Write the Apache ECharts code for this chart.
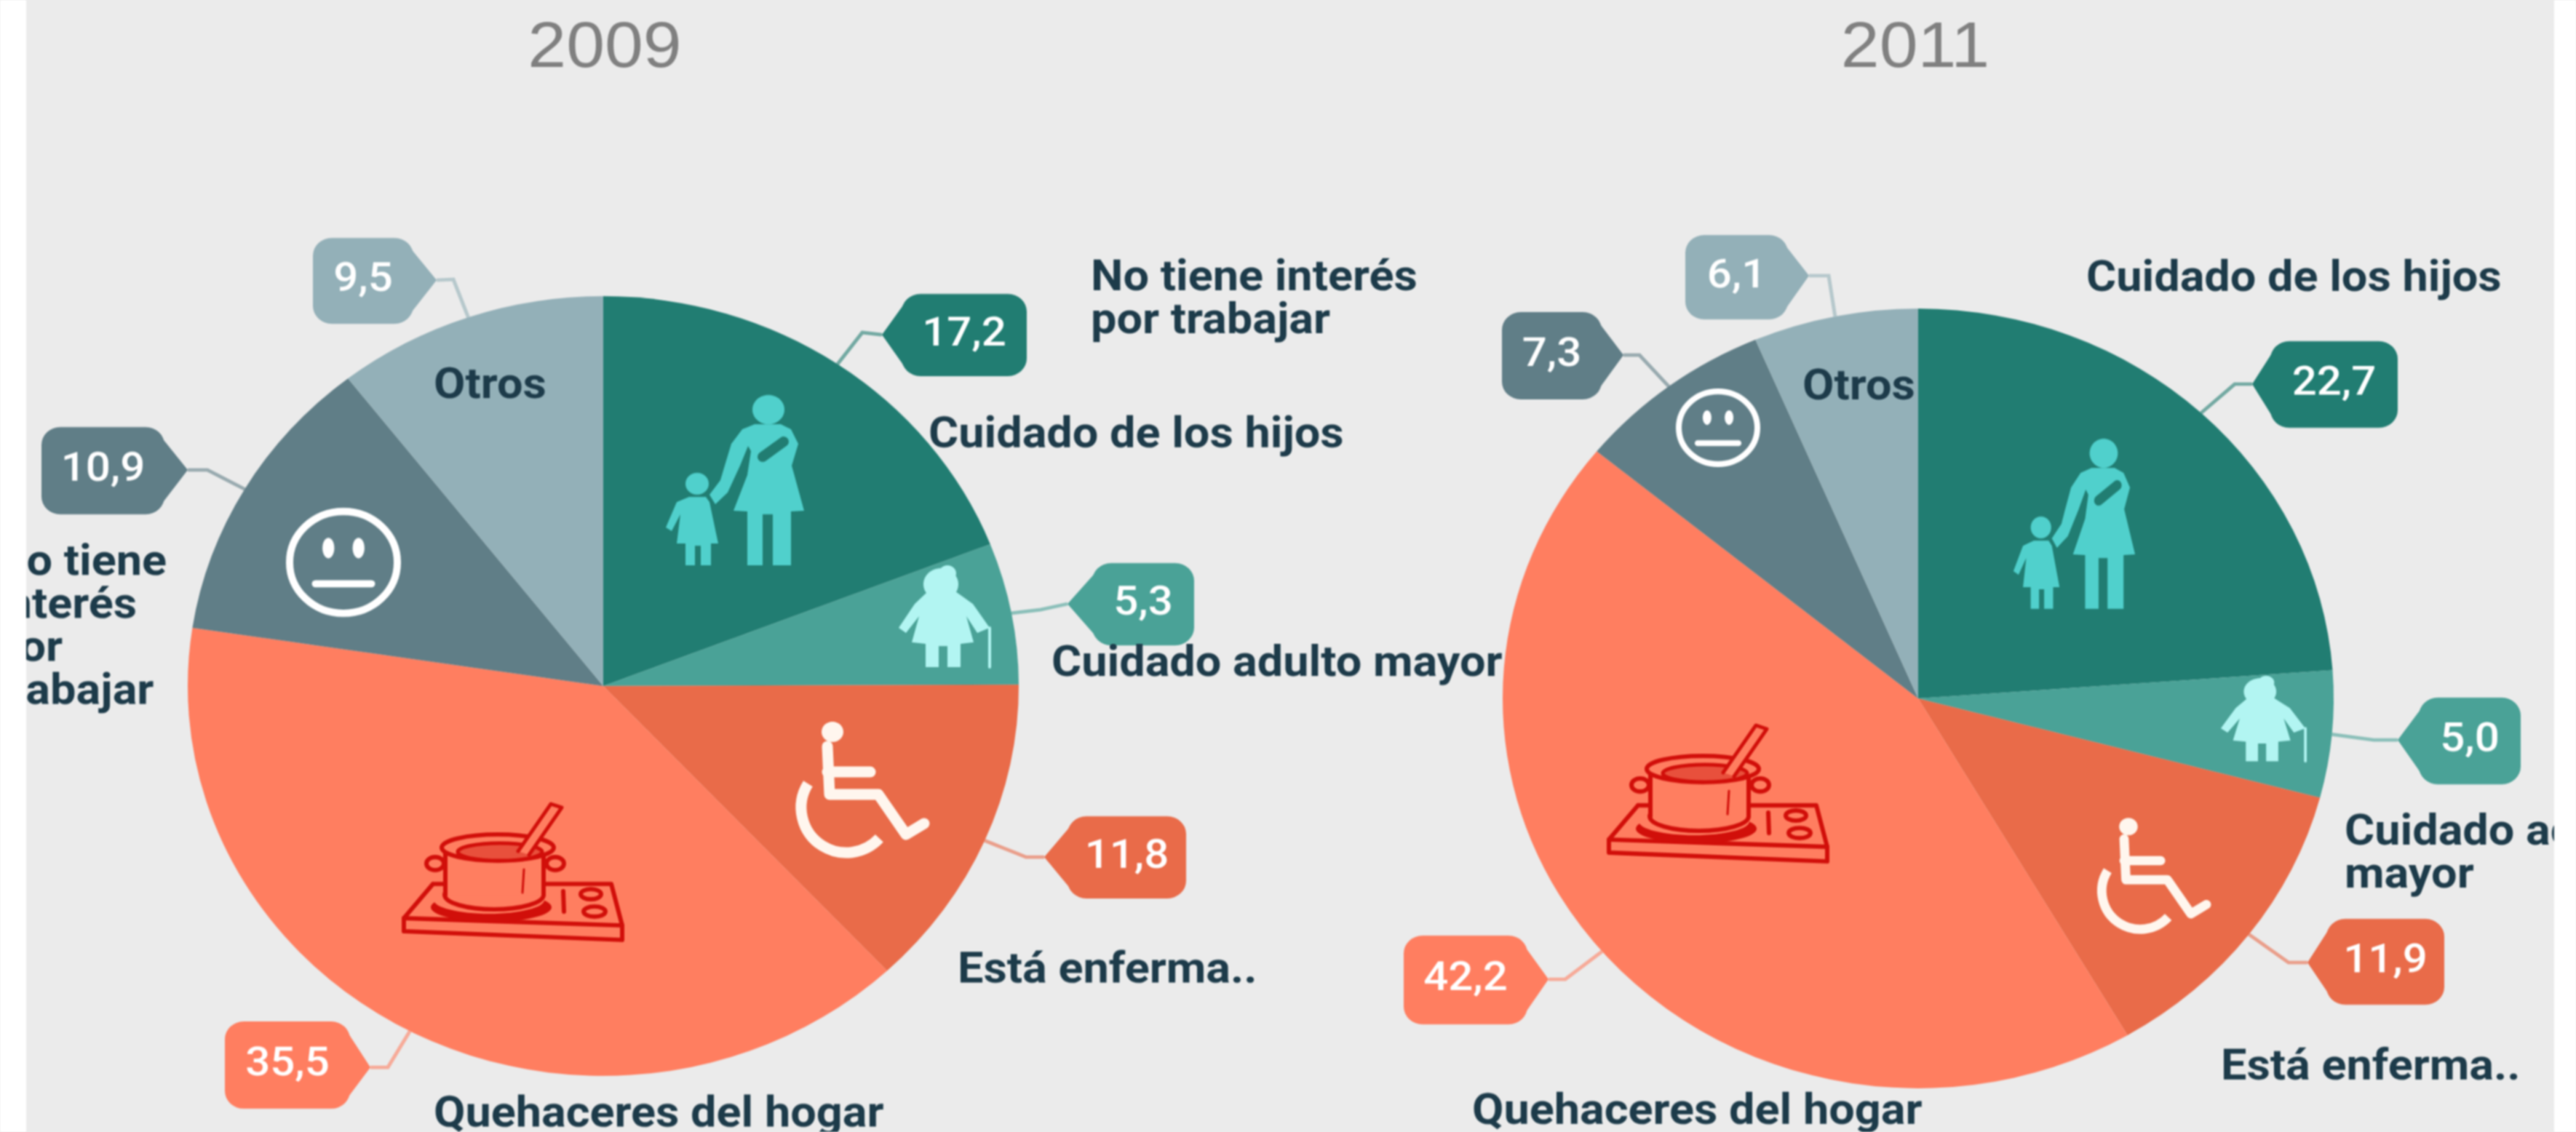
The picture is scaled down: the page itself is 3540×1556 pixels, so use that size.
<!DOCTYPE html>
<html>
<head>
<meta charset="utf-8">
<script src="https://cdn.jsdelivr.net/npm/echarts@6/dist/echarts.min.js"></script>
<style>
html, body { margin: 0; padding: 0; background: #ebebeb; overflow: hidden; }
/* the source picture is a stretched, soft upscale: squash the chart and blur it a little */
#chart { width: 3540px; height: 1658px; transform: scaleY(0.9385); transform-origin: 0 0; filter: blur(1.2px); }
</style>
</head>
<body>
<div id="chart"></div>
<script>
const years = ['2009', '2011']
const categories = ['Cuidado de los hijos', 'Cuidado adulto mayor', 'Está enferma..', 'Quehaceres del hogar', 'No tiene interés por trabajar', 'Otros']
const values2009 = [17.2, 5.3, 11.8, 35.5, 10.9, 9.5]
const values2011 = [22.7, 5.0, 11.9, 42.2, 7.3, 6.1]
const sliceColors = ['#217d72', '#4aa297', '#e96b49', '#ff7e60', '#607e87', '#93b0b8']

const SQUASH = 0.9385
const Y = (y) => y / SQUASH
const INK = '#1d3b4a'

// tag box [x, y, w, h], pointer tip, line elbow, all in picture px
const tags2009 = [
  { box: [1239, 404, 172, 113], tip: [1212, 460], elbow: [1185, 457] },
  { box: [1501, 774, 140, 113], tip: [1467, 830], elbow: [1430, 838] },
  { box: [1467, 1122, 163, 113], tip: [1435, 1178], elbow: [1410, 1178] },
  { box: [309, 1404, 172, 120], tip: [509, 1467], elbow: [533, 1467] },
  { box: [57, 587, 169, 120], tip: [258, 646], elbow: [285, 646] },
  { box: [430, 327, 138, 118], tip: [600, 385], elbow: [623, 384] },
]
const tags2011 = [
  { box: [3120, 469, 175, 119], tip: [3095, 528], elbow: [3071, 528] },
  { box: [3324, 959, 140, 119], tip: [3295, 1017], elbow: [3262, 1017] },
  { box: [3197, 1263, 162, 118], tip: [3171, 1323], elbow: [3145, 1323] },
  { box: [1929, 1286, 170, 122], tip: [2128, 1346], elbow: [2151, 1346] },
  { box: [2064, 429, 137, 120], tip: [2231, 488], elbow: [2253, 488] },
  { box: [2316, 323, 141, 116], tip: [2486, 379], elbow: [2513, 379] },
]

// category names placed around the pies: text, left x, middle y
const names = [
  ['No tiene interés\npor trabajar', 1499, 414],
  [categories[0], 1276, 600],
  [categories[5], 596, 532],
  [categories[1], 1445, 914],
  [categories[2], 1316, 1336],
  [categories[3], 596, 1534],
  ['No tiene\ninterés\npor\ntrabajar', -8, 864],
  [categories[0], 2867, 385],
  [categories[5], 2477, 534],
  ['Cuidado adulto\nmayor', 3222, 1176],
  [categories[2], 3052, 1469],
  [categories[3], 2023, 1530],
]

function pieSeries(values, tags, cx, cy) {
  return {
    type: 'pie',
    silent: true,
    animation: false,
    center: [cx, Y(cy)],
    radius: 571,
    startAngle: 90,
    data: values.map((v, i) => ({
      name: categories[i],
      value: v,
      itemStyle: { color: sliceColors[i] },
      label: {
        backgroundColor: sliceColors[i],
        width: tags[i].box[2],
        height: Y(tags[i].box[3]),
        lineHeight: Y(tags[i].box[3]),
      },
    })),
    label: {
      show: true,
      position: 'outside',
      formatter: (p) => p.value.toFixed(1).replace('.', ','),
      color: '#ffffff',
      fontFamily: 'Roboto',
      fontWeight: 500,
      fontSize: 60,
      borderRadius: 26,
      align: 'center',
    },
    labelLine: { show: true, lineStyle: { width: 5, opacity: 0.6 } },
    labelLayout: (params) => {
      const t = tags[params.dataIndex]
      const start = params.labelLinePoints[0]
      return {
        x: t.box[0] + t.box[2] / 2,
        y: Y(t.box[1] + t.box[3] / 2),
        align: 'center',
        verticalAlign: 'middle',
        labelLinePoints: [start, [t.elbow[0], Y(t.elbow[1])], [t.tip[0], Y(t.tip[1])]],
      }
    },
  }
}

// pointer triangle on the side of the tag that faces the tip
function pointer(t, color) {
  const [x, y, w, h] = t.box
  const side = t.tip[0] < x ? x + 2 : x + w - 2
  return {
    type: 'polygon',
    shape: { points: [[side, y + h * 0.14], t.tip, [side, y + h * 0.86]] },
    style: { fill: color },
  }
}

function poly(points, fill) {
  return { type: 'polygon', shape: { points }, style: { fill } }
}
function stroke(points, color, lineWidth) {
  return { type: 'polyline', shape: { points }, style: { stroke: color, lineWidth, fill: 'none', lineCap: 'round', lineJoin: 'round' } }
}
function oval(cx, cy, rx, ry, style) {
  return { type: 'ellipse', shape: { cx, cy, rx, ry }, style }
}

function motherIcon(x, y, sx, bg) {
  const c = '#50d0cc'
  return {
    type: 'group', x, y, scaleX: sx,
    children: [
      oval(142, 21, 22, 20, { fill: c }),
      poly([[123, 41], [106, 48], [91, 68], [81, 101], [76, 118], [61, 138], [69, 151], [86, 135], [103, 98], [114, 71], [118, 78], [113, 111], [94, 160], [113, 161], [113, 235], [134, 235], [134, 165], [148, 165], [148, 235], [173, 235], [173, 161], [191, 160], [174, 98], [183, 68], [173, 48], [159, 41]], c),
      stroke([[134, 86], [163, 65]], bg, 14),
      oval(44, 123, 16, 15, { fill: c }),
      poly([[33, 141], [16, 148], [1, 183], [9, 188], [21, 165], [16, 205], [28, 205], [28, 235], [41, 235], [41, 208], [49, 208], [49, 235], [63, 235], [63, 205], [73, 205], [61, 148], [56, 141]], c),
    ],
  }
}

function grandmaIcon(x, y, sx, sy) {
  const c = '#b2f5f2'
  return {
    type: 'group', x, y, scaleX: sx, scaleY: sy,
    children: [
      oval(60, 21, 24, 22, { fill: c }),
      oval(69, 6, 12, 11, { fill: c }),
      poly([[42, 31], [24, 48], [2, 81], [12, 88], [30, 65], [20, 101], [39, 103], [39, 135], [57, 135], [57, 106], [69, 106], [69, 135], [87, 135], [87, 103], [105, 101], [95, 65], [110, 88], [127, 81], [104, 48], [80, 31]], c),
      stroke([[127, 81], [127, 135]], c, 4),
    ],
  }
}

function wheelchairIcon(x, y, s) {
  const c = '#fff6ee'
  return {
    type: 'group', x, y, scaleX: s, scaleY: s,
    children: [
      oval(67, 12, 15, 14, { fill: c }),
      stroke([[60, 32], [63, 98], [130, 98], [168, 153], [193, 138]], c, 15),
      stroke([[60, 67], [119, 67]], c, 15),
      { type: 'arc', shape: { cx: 86, cy: 116, r: 62, startAngle: 3.7, endAngle: 0.75, clockwise: false }, style: { stroke: c, lineWidth: 15, fill: 'none' } },
    ],
  }
}

function potIcon(x, y) {
  const c = '#d10f0a'
  const bg = '#ff7e60'
  const lw = 6
  return {
    type: 'group', x, y,
    children: [
      stroke([[42, 111], [287, 111], [302, 168], [2, 158], [42, 111]], c, lw),
      stroke([[2, 158], [2, 176], [302, 188], [302, 168]], c, lw),
      oval(122, 143, 83, 20, { fill: c }),
      oval(119, 133, 76, 19, { fill: bg }),
      // pot body, handles behind it
      oval(45, 83, 12, 9, { fill: bg, stroke: c, lineWidth: lw }),
      oval(210, 83, 12, 9, { fill: bg, stroke: c, lineWidth: lw }),
      oval(126, 126, 68, 20, { fill: bg, stroke: c, lineWidth: lw }),
      poly([[59, 61], [59, 127], [194, 127], [194, 61]], bg),
      stroke([[59, 70], [59, 126]], c, lw),
      stroke([[194, 70], [194, 126]], c, lw),
      oval(131, 61, 77, 18, { fill: bg, stroke: c, lineWidth: lw }),
      oval(134, 67, 58, 12, { fill: '#e8503c', stroke: c, lineWidth: lw - 1 }),
      poly([[159, 66], [204, 1], [219, 6], [174, 71]], bg),
      stroke([[159, 66], [204, 1], [219, 6], [174, 71]], c, lw - 1),
      oval(259, 125, 14, 7, { fill: 'none', stroke: c, lineWidth: lw }),
      oval(264, 149, 15, 7, { fill: 'none', stroke: c, lineWidth: lw }),
      stroke([[221, 121], [222, 149]], c, lw),
      stroke([[167, 91], [165, 123]], c, 3),
    ],
  }
}

function faceIcon(cx, cy, rx, ry, lw) {
  const c = '#ffffff'
  return {
    type: 'group',
    children: [
      oval(cx, cy, rx, ry, { fill: 'none', stroke: c, lineWidth: lw }),
      oval(cx - rx * 0.28, cy - ry * 0.28, rx * 0.11, ry * 0.2, { fill: c }),
      oval(cx + rx * 0.28, cy - ry * 0.28, rx * 0.11, ry * 0.2, { fill: c }),
      stroke([[cx - rx * 0.52, cy + ry * 0.42], [cx + rx * 0.52, cy + ry * 0.42]], c, lw),
    ],
  }
}

// graphic z does not reach nested children, set it on every element
function raise(el) {
  if (el.children) el.children.forEach(raise)
  else el.z = 10
  return el
}

const iconGroup = raise({
  type: 'group',
  scaleY: 1 / SQUASH,
  children: [
    motherIcon(914, 542, 1, sliceColors[0]),
    grandmaIcon(1233, 782, 1, 1),
    wheelchairIcon(1077, 994, 1),
    potIcon(553, 1104),
    faceIcon(472, 773, 74, 70, 10),
    motherIcon(2766, 602, 0.88, sliceColors[0]),
    grandmaIcon(3050, 933, 0.93, 0.84),
    wheelchairIcon(2868, 1126, 0.85),
    potIcon(2209, 996),
    faceIcon(2361, 588, 54, 50, 8),
    ...tags2009.map((t, i) => pointer(t, sliceColors[i])),
    ...tags2011.map((t, i) => pointer(t, sliceColors[i])),
  ],
})

const nameTexts = names.map(([text, x, y]) => ({
  type: 'text',
  z: 10,
  x,
  y: Y(y),
  style: { text, fill: INK, font: 'bold 63px Roboto', textAlign: 'left', textVerticalAlign: 'middle', lineHeight: 63 },
}))

// white margins of the picture, they also cut the clipped labels
const margins = [
  { type: 'rect', z: 11, shape: { x: 0, y: 0, width: 36, height: 1658 }, style: { fill: '#ffffff' } },
  { type: 'rect', z: 11, shape: { x: 3510, y: 0, width: 30, height: 1658 }, style: { fill: '#ffffff' } },
]

const option = {
  backgroundColor: '#ebebeb',
  animation: false,
  title: years.map((y, i) => ({
    text: y,
    left: i === 0 ? 826 : 2627,
    top: Y(63) - 48,
    textAlign: 'center',
    textStyle: { color: '#808080', fontFamily: 'Liberation Sans', fontWeight: 'normal', fontSize: 95 },
  })),
  series: [
    pieSeries(values2009, tags2009, 829, 943),
    pieSeries(values2011, tags2011, 2636, 960),
  ],
  graphic: { elements: [iconGroup, ...nameTexts, ...margins] },
}

const chart = echarts.init(document.getElementById('chart'), null, { renderer: 'canvas' })
chart.setOption(option)
</script>
</body>
</html>
